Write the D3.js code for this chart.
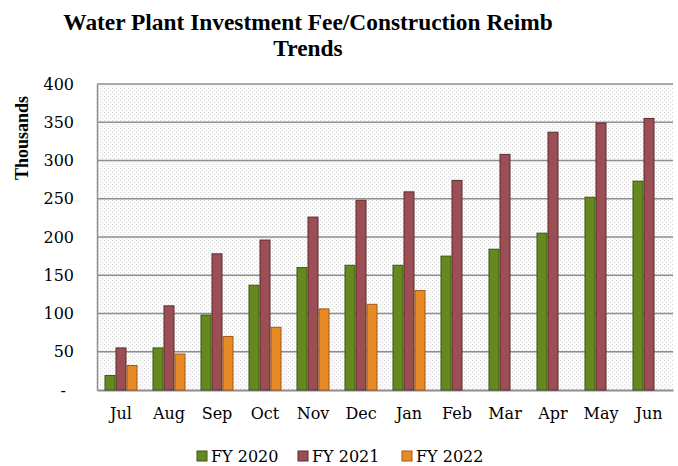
<!DOCTYPE html>
<html><head><meta charset="utf-8">
<script src="https://cdn.jsdelivr.net/npm/d3@7"></script>
<style>body{margin:0;background:#fff}svg{display:block}</style>
</head><body>
<svg id="c" width="678" height="466"></svg>
<script>
const months = ["Jul","Aug","Sep","Oct","Nov","Dec","Jan","Feb","Mar","Apr","May","Jun"];
const seriesNames = ["FY 2020","FY 2021","FY 2022"];
const fy2020 = [19, 55, 98, 137, 160, 163, 163, 175, 184, 205, 252, 273];
const fy2021 = [55, 110, 178, 196, 226, 248, 259, 274, 308, 337, 349, 355];
const fy2022 = [32, 47, 70, 82, 106, 112, 130, null, null, null, null, null];
const yTicks = [0, 50, 100, 150, 200, 250, 300, 350, 400];
const titleLines = ["Water Plant Investment Fee/Construction Reimb", "Trends"];
const colors = ["#63891f", "#9b4f55", "#e88a25"];
const strokes = ["#3e5714", "#5c2a2f", "#a05a14"];

const svg = d3.select("#c");
const m = {left: 97, right: 673, top: 84, bottom: 390};
const x = d3.scaleBand().domain(months).range([m.left, m.right]).paddingInner(0.3125).paddingOuter(0.15625);
const xs = d3.scaleBand().domain(seriesNames).range([0, x.bandwidth()]);
const y = d3.scaleLinear().domain([0, 400]).range([m.bottom, m.top]);

// dotted pattern background
const defs = svg.append("defs");
const pat = defs.append("pattern").attr("id","dots").attr("width",4).attr("height",4).attr("patternUnits","userSpaceOnUse");
pat.append("rect").attr("width",4).attr("height",4).attr("fill","#fbfbfb");
pat.append("rect").attr("x",0).attr("y",0).attr("width",1).attr("height",1).attr("fill","#d9d9d9");
pat.append("rect").attr("x",2).attr("y",2).attr("width",1).attr("height",1).attr("fill","#d9d9d9");
svg.append("rect").attr("x", m.left).attr("y", m.top).attr("width", m.right - m.left).attr("height", m.bottom - m.top).attr("fill","url(#dots)");

// gridlines
svg.append("g").selectAll("line").data(yTicks.filter(d => d > 0)).join("line")
  .attr("x1", m.left).attr("x2", m.right).attr("y1", d => y(d)).attr("y2", d => y(d))
  .attr("stroke", "#8e8e8e").attr("stroke-width", 1.5);

// y axis
const yAxis = d3.axisLeft(y).tickValues(yTicks).tickSize(0).tickPadding(23)
  .tickFormat(d => d === 0 ? "-" : d);
const gy = svg.append("g").attr("transform", `translate(${m.left},0)`).call(yAxis);
gy.select(".domain").attr("stroke", "#8e8e8e").attr("stroke-width", 1.5);
gy.selectAll("text").attr("font-family", "DejaVu Serif").attr("font-size", 16).attr("fill", "#000");
gy.selectAll(".tick").filter(d => d === 0).select("text").attr("dx", -8);

// x axis
const xAxis = d3.axisBottom(x).tickSize(0).tickPadding(18);
const gx = svg.append("g").attr("transform", `translate(0,${m.bottom})`).call(xAxis);
gx.select(".domain").attr("stroke", "#8e8e8e").attr("stroke-width", 2);
gx.selectAll("text").attr("font-family", "DejaVu Serif").attr("font-size", 16).attr("fill", "#000");

// bars
const allSeries = [fy2020, fy2021, fy2022];
allSeries.forEach((vals, si) => {
  svg.append("g").selectAll("rect")
    .data(months.map((mo, i) => ({mo, v: vals[i]})).filter(d => d.v != null))
    .join("rect")
    .attr("x", d => x(d.mo) + xs(seriesNames[si]) + 0.5)
    .attr("width", xs.bandwidth() - 1)
    .attr("y", d => y(d.v))
    .attr("height", d => y(0) - y(d.v))
    .attr("fill", colors[si]).attr("stroke", strokes[si]).attr("stroke-width", 1);
});

// title
svg.append("g").selectAll("text").data(titleLines).join("text")
  .attr("x", 308).attr("y", (d, i) => 30 + i * 26).attr("text-anchor", "middle")
  .attr("font-family", "Liberation Serif").attr("font-weight", "bold").attr("font-size", 23.4).attr("fill", "#000")
  .text(d => d);

// y label
svg.append("text").attr("transform", "translate(28,138) rotate(-90)").attr("text-anchor", "middle")
  .attr("font-family", "Liberation Serif").attr("font-weight", "bold").attr("font-size", 18).text("Thousands");

// legend
const lg = svg.append("g");
const lx = [197, 298, 402];
seriesNames.forEach((n, i) => {
  lg.append("rect").attr("x", lx[i]).attr("y", 451).attr("width", 10).attr("height", 10)
    .attr("fill", colors[i]).attr("stroke", strokes[i]).attr("stroke-width", 1);
  lg.append("text").attr("x", lx[i] + 14).attr("y", 462).attr("font-family", "DejaVu Serif").attr("font-size", 16).text(n);
});
</script>
</body></html>
